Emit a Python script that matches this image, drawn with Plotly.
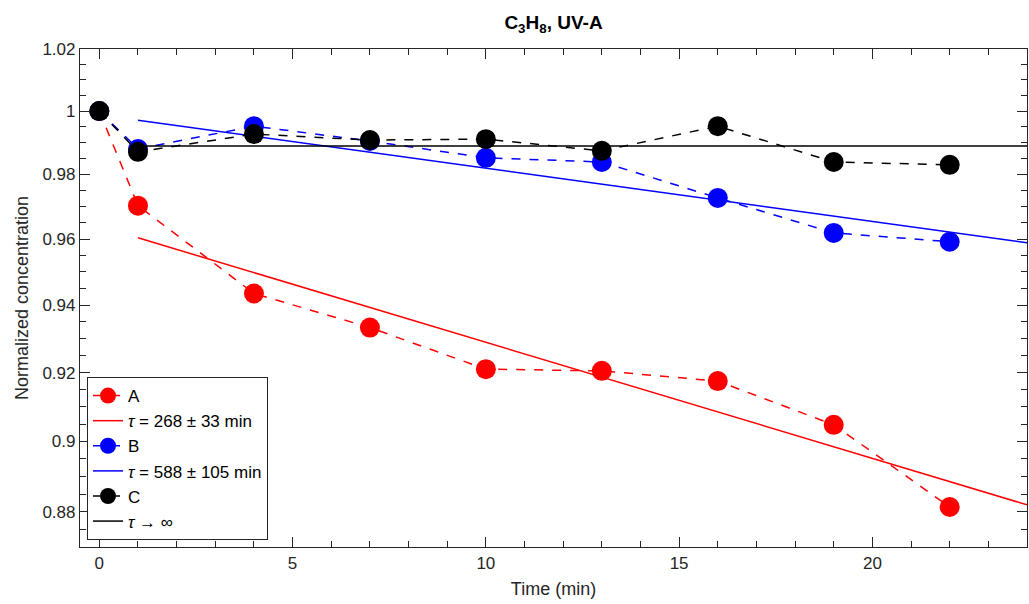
import plotly.graph_objects as go

t = [0, 1, 4, 7, 10, 13, 16, 19, 22]
conc_A = [1.0, 0.9703, 0.9435, 0.9333, 0.9210, 0.9205, 0.9175, 0.9048, 0.8814]
conc_B = [1.0, 0.9880, 0.9952, 0.9905, 0.9852, 0.9839, 0.9727, 0.9619, 0.9592]
conc_C = [1.0, 0.9871, 0.9927, 0.9908, 0.9911, 0.9874, 0.9952, 0.9839, 0.9830]

fit_t = [1, 24]
fit_A = [0.9604, 0.8820]
fit_B = [0.9971, 0.9589]
fit_C = [0.9889, 0.9889]

names = ["A", "B", "C"]
fit_names = ["<i>τ</i> = 268 ± 33 min", "<i>τ</i> = 588 ± 105 min", "<i>τ</i> → ∞"]

y_ticks = [0.88, 0.90, 0.92, 0.94, 0.96, 0.98, 1.00, 1.02]
y_ticktext = ["0.88", "0.9", "0.92", "0.94", "0.96", "0.98", "1", "1.02"]
y_minor = [0.870 + 0.005 * i for i in range(31)]

colors = ["#ff0000", "#0000ff", "#000000"]
series = [conc_A, conc_B, conc_C]
fits = [fit_A, fit_B, fit_C]

fig = go.Figure()
for name, fname, col, ys, fy in zip(names, fit_names, colors, series, fits):
    fig.add_trace(go.Scatter(
        x=t, y=ys, name=name, mode="lines+markers",
        line=dict(color=col, width=1.5, dash="dash"),
        marker=dict(color=col, size=20, line=dict(width=0)),
    ))
    fig.add_trace(go.Scatter(
        x=fit_t, y=fy, name=fname, mode="lines",
        line=dict(color=col, width=1.5),
    ))

axis_col = "#262626"
font = "Liberation Sans, Arial, Helvetica, sans-serif"

fig.update_layout(
    width=1029, height=604,
    margin=dict(l=80, r=2, t=49, b=57, autoexpand=False),
    paper_bgcolor="white", plot_bgcolor="white",
    font=dict(family=font, size=17, color=axis_col),
    title=dict(text="<b>C<sub>3</sub>H<sub>8</sub>, UV-A</b>", x=0.5, xanchor="center",
               xref="paper", y=1 - 22 / 604, yref="container", yanchor="middle",
               font=dict(size=19, color="#000000")),
    showlegend=True,
    legend=dict(x=0.0074, y=0.014, xanchor="left", yanchor="bottom",
                bordercolor="#262626", borderwidth=1, bgcolor="white",
                font=dict(size=17, color="#000000"), itemwidth=30,
                tracegroupgap=0),
)

fig.update_xaxes(
    range=[-0.5, 24], showgrid=False, zeroline=False, automargin=False,
    showline=True, linecolor=axis_col, linewidth=1.2, mirror="ticks",
    ticks="inside", ticklen=10, tickwidth=1.2, tickcolor=axis_col,
    tickvals=[0, 5, 10, 15, 20],
    minor=dict(tickvals=list(range(0, 25)), ticks="inside", ticklen=6, tickcolor=axis_col, tickwidth=1.2),
    title=dict(text="Time (min)", font=dict(size=18), standoff=10),
    tickfont=dict(size=17),
)
fig.update_yaxes(
    type="log", range=[-0.06037, 0.0086], showgrid=False, zeroline=False, automargin=False,
    showline=True, linecolor=axis_col, linewidth=1.2, mirror="ticks",
    ticks="inside", ticklen=10, tickwidth=1.2, tickcolor=axis_col,
    tickmode="array", tickvals=y_ticks, ticktext=y_ticktext,
    minor=dict(tickmode="array", tickvals=y_minor, ticks="inside", ticklen=6, tickcolor=axis_col, tickwidth=1.2),
    title=dict(text="Normalized concentration", font=dict(size=18), standoff=9),
    tickfont=dict(size=17),
)

fig.write_html(
    "out.html",
    config={"displayModeBar": False},
    post_script="document.body.style.margin='0';document.body.style.overflow='hidden';",
)
